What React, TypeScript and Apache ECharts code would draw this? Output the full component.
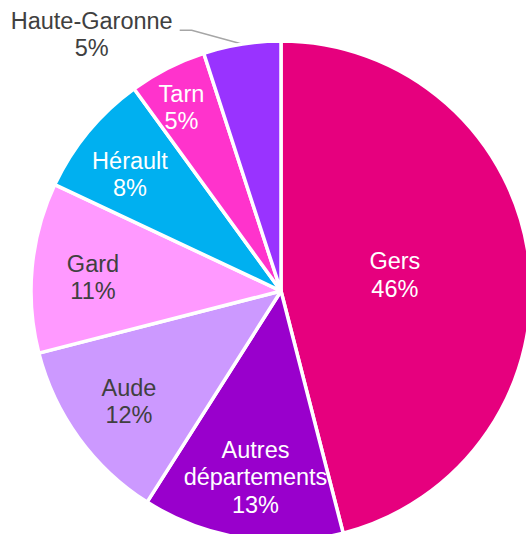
import React, { useEffect, useRef } from "react";
import * as echarts from "echarts";

const categories = [
  "Gers",
  "Autres\ndépartements",
  "Aude",
  "Gard",
  "Hérault",
  "Tarn",
  "Haute-Garonne",
];
const values = [46, 13, 12, 11, 8, 5, 5];
const colors = ["#E6007E", "#9900CC", "#CC99FF", "#FF99FF", "#00B0F0", "#FF33CC", "#9933FF"];
const labelColors = ["#FFFFFF", "#FFFFFF", "#404040", "#404040", "#FFFFFF", "#FFFFFF", "#404040"];
// inside-label placement: distance from the centre (px) and angular shift from the slice's mid-angle (deg)
const labelDistance = [115, 188, 188, 188.5, 190.6, 208.7, 0];
const labelAngleShift = [-0.8, -1.2, 0, -1.3, -2.0, -1.5, 0];

const CX = 281;
const CY = 291;
const R = 250;
const FONT = "'Liberation Sans', Arial, sans-serif";

export default function App() {
  const ref = useRef<HTMLDivElement>(null);
  useEffect(() => {
    if (!ref.current) return;
    const chart = echarts.init(ref.current, undefined, { renderer: "svg" });
    const last = categories.length - 1;
    chart.setOption({
      animation: false,
      backgroundColor: "#FFFFFF",
      series: [
        {
          type: "pie",
          center: [CX, CY],
          radius: [0, R],
          startAngle: 90,
          clockwise: true,
          avoidLabelOverlap: false,
          silent: true,
          emphasis: { disabled: true },
          itemStyle: { borderColor: "#FFFFFF", borderWidth: 3.5 },
          label: {
            position: "inside",
            formatter: "{b}\n{c}%",
            fontFamily: FONT,
            fontSize: 23.5,
            lineHeight: 27.5,
          },
          labelLine: { show: false },
          labelLayout: (params: any) => {
            const i = params.dataIndex;
            const r = params.labelRect;
            const lx = r.x + r.width / 2;
            const ly = r.y + r.height / 2;
            if (i === last) {
              const pts = params.labelLinePoints;
              if (!pts) return {};
              const p0 = pts[0];
              const p2 = pts[2];
              return {
                x: lx,
                y: ly + 4,
                align: "center",
                verticalAlign: "middle",
                labelLinePoints: [p0, [p2[0] + 12, p2[1]], p2],
              };
            }
            const base = Math.atan2(lx - CX, -(ly - CY));
            const th = base + (labelAngleShift[i] * Math.PI) / 180;
            const d = labelDistance[i];
            return { x: CX + d * Math.sin(th), y: CY - d * Math.cos(th) };
          },
          data: categories.map((name, i) => {
            const item: any = {
              name,
              value: values[i],
              itemStyle: { color: colors[i] },
              label: { color: labelColors[i] },
            };
            if (i === last) {
              item.label = {
                position: "outside",
                color: labelColors[i],
                distanceToLabelLine: 5,
                formatter: "{a|{b}}\n{a|{c}%}",
                rich: {
                  a: {
                    width: 166,
                    align: "center",
                    fontFamily: FONT,
                    fontSize: 23.5,
                    lineHeight: 27.5,
                    color: labelColors[i],
                  },
                },
              };
              item.labelLine = {
                show: true,
                length: 14,
                length2: 60,
                smooth: false,
                lineStyle: { color: "#A6A6A6", width: 1.5 },
              };
            }
            return item;
          }),
        },
      ],
    });
    return () => chart.dispose();
  }, []);
  return (
    <div
      ref={ref}
      style={{ position: "absolute", left: 0, top: 0, width: 526, height: 534, background: "#FFFFFF" }}
    />
  );
}
